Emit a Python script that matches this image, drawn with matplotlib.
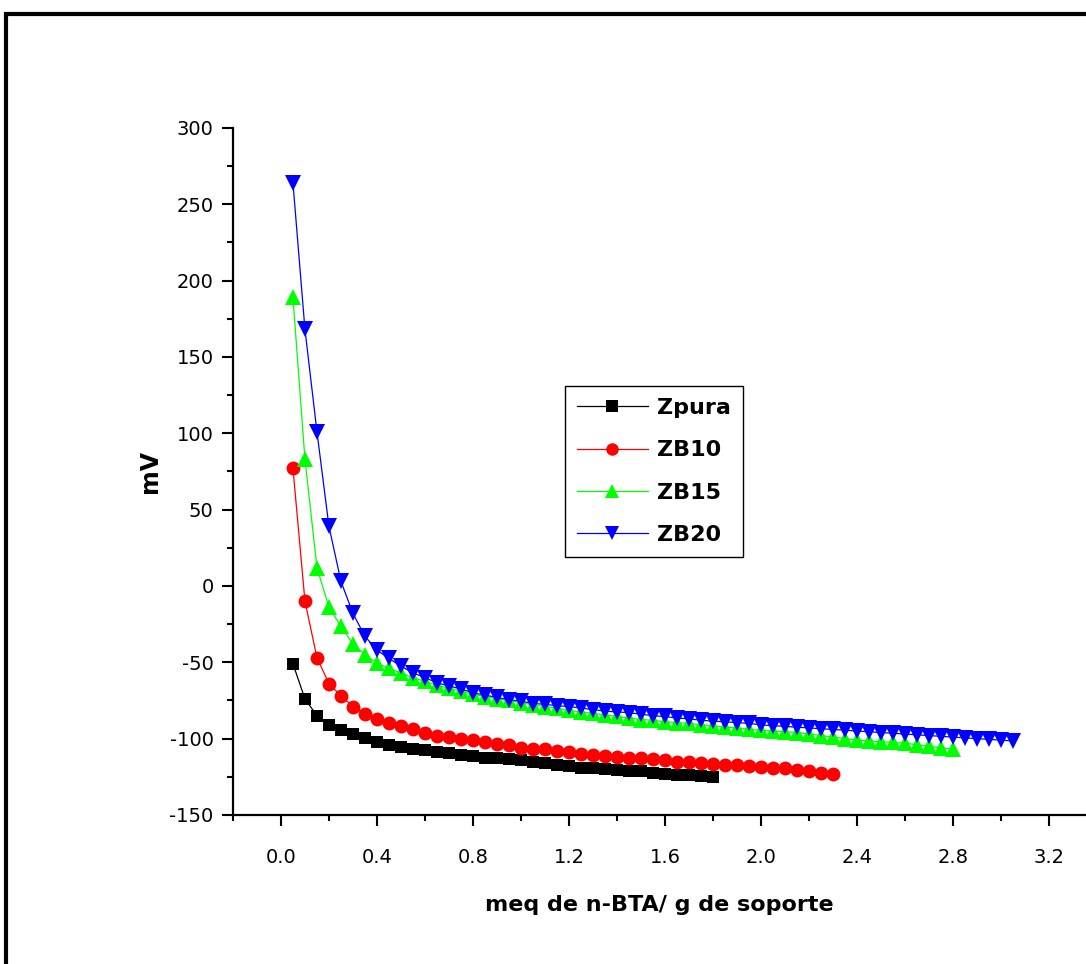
import numpy as np
import matplotlib
matplotlib.use("Agg")
import matplotlib.pyplot as plt
from matplotlib.patches import Rectangle
from matplotlib.ticker import MultipleLocator

plt.rcParams["axes.unicode_minus"] = False

# x grid: readings every 0.05 meq/g, starting at 0.05
x_step = 0.05

zpura = [-51, -74, -85, -91, -94.5, -97, -99.5, -102.5, -104.5, -105.5,
         -106.5, -107.5, -108.5, -109.5, -110.5, -111.5, -112.5, -113, -113.5, -114,
         -115, -116, -117, -118, -119, -119.5, -120, -120.5, -121, -121.5,
         -122.5, -123, -123.5, -124, -124.5, -125]

zb10 = [77, -10, -47, -64, -72, -79, -84, -87, -89.5, -92,
        -94, -96, -98, -99, -100, -101, -102.5, -103.5, -104.5, -106,
        -106.5, -107, -108, -109, -110, -111, -111.5, -112, -112.5, -113,
        -113.5, -114, -115, -115.5, -116, -116.5, -117, -117.5, -118, -118.5,
        -119, -119.5, -120.5, -121.5, -122.5, -123]

zb15 = [189, 83, 12, -14, -26.5, -38, -45, -50.5, -54, -57,
        -60, -62.5, -65, -67, -69, -71, -72.5, -74, -75, -76.5,
        -78, -79, -80, -81.5, -82.5, -83.5, -84.5, -85.5, -86.5, -87.5,
        -88, -89, -89.5, -90, -91, -91.5, -92.5, -93, -94, -94.5,
        -95, -95.5, -96, -97, -98, -99, -100, -101, -101.5, -102,
        -102.5, -103, -104, -105, -106, -107]

zb20 = [264, 168, 101, 39, 3, -18, -33, -42, -47.5, -52.5,
        -57, -60, -63.5, -65.5, -67.5, -70, -71.5, -73, -74.5, -75.5,
        -77, -77.5, -78.5, -79, -80, -81, -82, -82.5, -83, -84,
        -85, -85.5, -86.5, -87, -88, -88.5, -89, -89.5, -90, -91,
        -91.5, -92, -92.5, -93, -93.5, -94, -94.5, -95, -95.5, -96,
        -96.5, -97, -97.5, -98, -98.5, -99, -99.5, -100, -100.5, -101, -101.5]

series = [
    ("Zpura", zpura, "#000000", "s", 9),
    ("ZB10", zb10, "#ff0000", "o", 10),
    ("ZB15", zb15, "#00ff00", "^", 11),
    ("ZB20", zb20, "#0000ff", "v", 11),
]

fig = plt.figure(figsize=(10.86, 9.64), dpi=100)
ax = fig.add_axes([0.2145, 0.1546, 0.7855, 0.7127])

for name, y, color, marker, ms in series:
    x = np.arange(1, len(y) + 1) * x_step
    ax.plot(x, y, color=color, lw=0.9, marker=marker, ms=ms,
            markeredgewidth=0, label=name)

ax.set_xlim(-0.2, 3.354)
ax.set_ylim(-150, 300)
ax.xaxis.set_minor_locator(MultipleLocator(0.2))
ax.yaxis.set_major_locator(MultipleLocator(50))
ax.yaxis.set_minor_locator(MultipleLocator(25))
ax.set_xticks(np.arange(0, 3.3, 0.4))
ax.set_xticklabels([f"{v:.1f}" for v in np.arange(0, 3.3, 0.4)])

for side in ["top", "right"]:
    ax.spines[side].set_visible(False)
for side in ["left", "bottom"]:
    ax.spines[side].set_linewidth(1.6)

ax.tick_params(which="major", direction="out", length=8, width=1.5,
               labelsize=14, pad=6)
ax.tick_params(which="minor", direction="out", length=4, width=1.5)
ax.tick_params(axis="x", which="major", pad=16)

ax.set_xlabel("meq de n-BTA/ g de soporte", fontsize=16, fontweight="bold",
              labelpad=20)
ax.set_ylabel("mV", fontsize=17, fontweight="bold", labelpad=5)

leg = ax.legend(loc="upper left", bbox_to_anchor=(0.520, 0.5996),
                bbox_transform=fig.transFigure, borderaxespad=0,
                fancybox=False, framealpha=1, edgecolor="black",
                prop={"weight": "bold", "size": 16}, handlelength=3.2,
                labelspacing=1.0, numpoints=1, borderpad=0.55,
                handletextpad=0.4, markerscale=0.9)
leg.get_frame().set_linewidth(1.0)

# outer frame of the original figure
fig.patches.append(Rectangle((6 / 1086, -0.02), 1.05, 1 - 14 / 964 + 0.02,
                             transform=fig.transFigure, fill=False,
                             edgecolor="black", lw=3, clip_on=False))

fig.savefig("out.png", dpi=100)
